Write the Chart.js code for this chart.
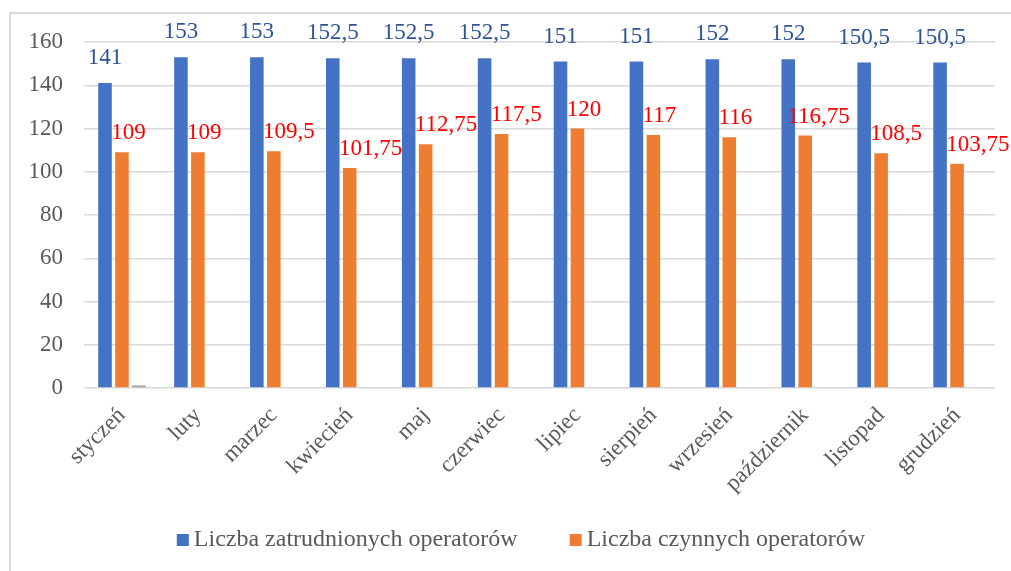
<!DOCTYPE html>
<html>
<head>
<meta charset="utf-8">
<script src="https://cdn.jsdelivr.net/npm/chart.js@4"></script>
<style>
  html, body { margin: 0; padding: 0; background: #fff; }
  #wrap { position: relative; width: 1011px; height: 571px; overflow: hidden; }
  #frame { position: absolute; left: 9px; top: 12px; width: 1100px; height: 600px;
           border-left: 2px solid #d9d9d9; border-top: 2px solid #d9d9d9; }
  canvas { position: absolute; left: 0; top: 0; }
</style>
</head>
<body>
<div id="wrap">
  <div id="frame"></div>
  <canvas id="chart" width="1011" height="571"></canvas>
</div>
<script>
const months = ["styczeń", "luty", "marzec", "kwiecień", "maj", "czerwiec",
  "lipiec", "sierpień", "wrzesień", "październik", "listopad", "grudzień"];
const employed = [141, 153, 153, 152.5, 152.5, 152.5, 151, 151, 152, 152, 150.5, 150.5];
const active = [109, 109, 109.5, 101.75, 112.75, 117.5, 120, 117, 116, 116.75, 108.5, 103.75];
const third = [1.2, null, null, null, null, null, null, null, null, null, null, null];
const yTicks = [0, 20, 40, 60, 80, 100, 120, 140, 160];

const serif = "'Liberation Serif', 'Times New Roman', serif";
const grey = "#595959";

function fmt(v) {
  return String(v).replace(".", ",");
}

// labels above the bars, the red ones start near the left edge of the bar like in Excel
const valueLabels = {
  id: "valueLabels",
  afterDatasetsDraw(chart) {
    const ctx = chart.ctx;
    ctx.save();
    ctx.font = "23px " + serif;
    ctx.textBaseline = "middle";
    chart.getDatasetMeta(0).data.forEach((bar, i) => {
      ctx.fillStyle = "#2F5597";
      ctx.textAlign = "center";
      ctx.fillText(fmt(employed[i]), bar.x, bar.y - 25);
    });
    chart.getDatasetMeta(1).data.forEach((bar, i) => {
      ctx.fillStyle = "#FF0000";
      ctx.textAlign = "left";
      const shift = i === 9 ? -7 : 0;
      ctx.fillText(fmt(active[i]), bar.x - bar.width / 2 - 4 + shift, bar.y - 19);
    });
    ctx.restore();
  },
};

const bottomLegend = {
  id: "bottomLegend",
  afterDraw(chart) {
    const ctx = chart.ctx;
    const items = [
      { text: "Liczba zatrudnionych operatorów", color: "#4472C4" },
      { text: "Liczba czynnych operatorów", color: "#ED7D31" },
    ];
    ctx.save();
    ctx.font = "24px " + serif;
    ctx.textBaseline = "middle";
    ctx.textAlign = "left";
    const box = 12, gapText = 5, gapItem = 52;
    let total = 0;
    items.forEach((it, i) => {
      total += box + gapText + ctx.measureText(it.text).width + (i ? 0 : gapItem);
    });
    let x = 521 - total / 2;
    const y = 540;
    items.forEach((it) => {
      ctx.fillStyle = it.color;
      ctx.fillRect(x, y - box / 2, box, box);
      x += box + gapText;
      ctx.fillStyle = grey;
      ctx.fillText(it.text, x, y);
      x += ctx.measureText(it.text).width + gapItem;
    });
    ctx.restore();
  },
};

new Chart(document.getElementById("chart"), {
  type: "bar",
  data: {
    labels: months,
    datasets: [
      { label: "Liczba zatrudnionych operatorów", data: employed, backgroundColor: "#4472C4" },
      { label: "Liczba czynnych operatorów", data: active, backgroundColor: "#ED7D31" },
      { label: "Seria 3", data: third, backgroundColor: "#A5A5A5" },
    ],
  },
  options: {
    responsive: false,
    animation: false,
    layout: { padding: { top: 42, right: 16, bottom: 60, left: 0 } },
    datasets: {
      bar: { categoryPercentage: 0.67, barPercentage: 0.8, skipNull: false },
    },
    plugins: {
      legend: { display: false },
      tooltip: { enabled: false },
    },
    scales: {
      x: {
        grid: { display: false },
        border: { display: false },
        ticks: {
          color: grey,
          font: { family: serif, size: 23 },
          maxRotation: 45,
          minRotation: 45,
          padding: 6,
        },
        afterFit(scale) {
          scale.height = 123;
        },
      },
      y: {
        min: 0,
        max: 160,
        afterBuildTicks(scale) {
          scale.ticks = yTicks.map((v) => ({ value: v }));
        },
        grid: { color: "#d9d9d9", lineWidth: 1.5, drawTicks: false },
        border: { display: false },
        ticks: {
          color: grey,
          font: { family: serif, size: 23 },
          padding: 21,
        },
        afterFit(scale) {
          scale.width = 84;
        },
      },
    },
  },
  plugins: [valueLabels, bottomLegend],
});
</script>
</body>
</html>
